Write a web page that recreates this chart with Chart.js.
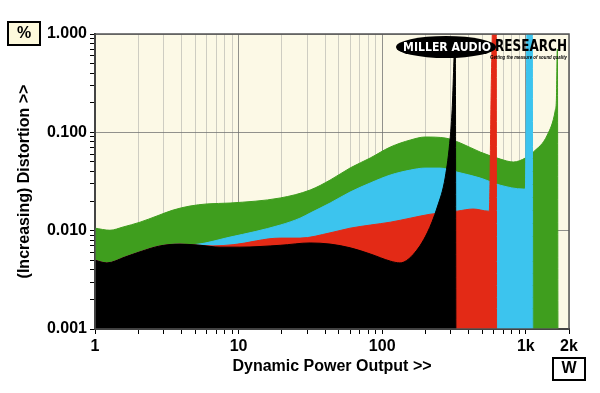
<!DOCTYPE html>
<html>
<head>
<meta charset="utf-8">
<script src="https://cdn.jsdelivr.net/npm/chart.js@4/dist/chart.umd.min.js"></script>
<style>
  html, body { margin: 0; padding: 0; background: #fff; }
</style>
</head>
<body>
<canvas id="dist" width="600" height="393"></canvas>
<script>
// power output (W) vs THD+N (%), one pair of arrays per trace
const blackW   = [1, 1.21, 1.62, 2.06, 2.84, 3.91, 5.39, 7.43, 10.2, 19.5, 31.5, 43.4, 59.8, 82.5, 114, 133, 164, 206, 242, 275, 298, 307, 323, 326];
const blackPct = [0.0050, 0.0047, 0.0054, 0.0061, 0.0070, 0.0073, 0.0071, 0.0068, 0.0068, 0.0071, 0.0075, 0.0073, 0.0067, 0.0058, 0.0049, 0.0047, 0.0057, 0.0095, 0.0174, 0.035, 0.090, 0.17, 0.9, 0.001];

const redW   = [1, 1.21, 1.62, 2.06, 2.84, 3.91, 5.39, 6.64, 9.15, 19.5, 26.8, 43.4, 59.8, 82.5, 114, 157, 216, 333, 431, 548, 557, 575, 592, 623, 626];
const redPct = [0.0050, 0.0047, 0.0054, 0.0061, 0.0070, 0.0073, 0.0071, 0.0070, 0.0072, 0.0084, 0.0084, 0.0095, 0.0106, 0.0114, 0.0122, 0.0134, 0.0147, 0.0158, 0.0166, 0.0158, 0.0158, 0.3, 1.5, 1.5, 0.001];

const blueW   = [1, 1.21, 1.62, 2.06, 2.84, 3.91, 4.59, 8.72, 19.5, 26.8, 31.5, 43.4, 59.8, 82.5, 114, 157, 199, 254, 333, 482, 664, 961, 993, 1024, 1110, 1118];
const bluePct = [0.0050, 0.0047, 0.0054, 0.0061, 0.0070, 0.0073, 0.0072, 0.0086, 0.0114, 0.0134, 0.0151, 0.0191, 0.0247, 0.0305, 0.0368, 0.0413, 0.0433, 0.0433, 0.0394, 0.0343, 0.0290, 0.0265, 0.0265, 1.5, 1.5, 0.001];

const greenW   = [1, 1.27, 1.57, 2.06, 2.70, 3.50, 4.59, 6.03, 8.72, 19.5, 31.5, 43.4, 59.8, 82.5, 114, 157, 199, 275, 350, 482, 664, 819, 993, 1128, 1413, 1607, 1633, 1660, 1675];
const greenPct = [0.0106, 0.0101, 0.0109, 0.0122, 0.0141, 0.0162, 0.0178, 0.0187, 0.0191, 0.0215, 0.0259, 0.0327, 0.0434, 0.0548, 0.0709, 0.0835, 0.0896, 0.0875, 0.0779, 0.0630, 0.0535, 0.0499, 0.0548, 0.0630, 0.0939, 0.169, 0.21, 0.70, 0.001];

// axis ticks
const xTicks = [1, 2, 3, 4, 5, 6, 7, 8, 9, 10, 20, 30, 40, 50, 60, 70, 80, 90,
                100, 200, 300, 400, 500, 600, 700, 800, 900, 1000, 2000];
const xLabels = { 1: '1', 10: '10', 100: '100', 1000: '1k', 2000: '2k' };
const yDecades = [0.001, 0.01, 0.1];
const yTicks = yDecades.flatMap(d => [1, 2, 3, 4, 5, 6, 7, 8, 9].map(k => +(d * k).toPrecision(3))).concat(1);
const yLabels = { 0.001: '0.001', 0.01: '0.010', 0.1: '0.100', 1: '1.000' };

const FONT = 'Liberation Sans, Arial, sans-serif';

function pairs(ws, ps) {
  return ws.map((w, i) => ({ x: w, y: ps[i] }));
}

function trace(ws, ps, colour) {
  return {
    data: pairs(ws, ps),
    borderColor: colour,
    backgroundColor: colour,
    borderWidth: 1,
    fill: 'start',
    pointRadius: 0,
    cubicInterpolationMode: 'monotone'
  };
}

// cream plot background, frame, unit boxes and the logo
const decorations = {
  id: 'decorations',
  beforeDraw(chart) {
    const { ctx, chartArea: a } = chart;
    ctx.save();
    ctx.fillStyle = '#fcf9e6';
    ctx.fillRect(a.left, a.top, a.right - a.left, a.bottom - a.top);
    ctx.restore();
  },
  afterDraw(chart) {
    const { ctx, chartArea: a } = chart;
    ctx.save();
    ctx.strokeStyle = '#555';
    ctx.lineWidth = 1.5;
    ctx.strokeRect(a.left, a.top, a.right - a.left, a.bottom - a.top);

    ctx.lineWidth = 2;
    ctx.strokeStyle = '#000';
    ctx.fillStyle = '#fdf9dc';
    ctx.fillRect(8, 22, 32, 23);
    ctx.strokeRect(8, 22, 32, 23);
    ctx.fillStyle = '#fff';
    ctx.fillRect(553, 358, 32, 22);
    ctx.strokeRect(553, 358, 32, 22);
    ctx.fillStyle = '#000';
    ctx.font = 'bold 16px ' + FONT;
    ctx.textAlign = 'center';
    ctx.textBaseline = 'middle';
    ctx.fillText('%', 24, 34);
    ctx.fillText('W', 569, 369);

    // Miller Audio Research logo
    ctx.beginPath();
    ctx.ellipse(446, 47, 50, 11, 0, 0, Math.PI * 2);
    ctx.fill();
    ctx.fillStyle = '#fff';
    ctx.font = 'bold 13px DejaVu Sans, ' + FONT;
    ctx.fillText('MILLER AUDIO', 447, 47.5, 88);
    ctx.fillStyle = '#000';
    ctx.textAlign = 'left';
    ctx.font = 'bold 15px DejaVu Sans, ' + FONT;
    ctx.fillText('RESEARCH', 495, 47.5, 72);
    ctx.font = 'italic bold 6px ' + FONT;
    ctx.fillText('Getting the measure of sound quality', 490, 57, 77);
    ctx.restore();
  }
};

new Chart(document.getElementById('dist'), {
  type: 'line',
  data: {
    datasets: [
      trace(blackW, blackPct, '#000000'),
      trace(redW, redPct, '#e32a16'),
      trace(blueW, bluePct, '#3cc4ee'),
      trace(greenW, greenPct, '#3f9e1e')
    ]
  },
  options: {
    responsive: false,
    animation: false,
    layout: { padding: { top: 34, right: 31, left: 0, bottom: 0 } },
    plugins: {
      legend: { display: false },
      tooltip: { enabled: false }
    },
    scales: {
      x: {
        type: 'logarithmic',
        min: 1,
        max: 2000,
        z: 1,
        afterBuildTicks: s => { s.ticks = xTicks.map(v => ({ value: v })); },
        afterFit: s => { s.height = 64; },
        ticks: {
          autoSkip: false,
          maxRotation: 0,
          padding: 3,
          color: '#000',
          font: { family: FONT, size: 16, weight: 'bold' },
          callback: v => xLabels[v] || ''
        },
        grid: {
          color: c => [1, 10, 100, 1000].includes(c.tick.value) ? 'rgba(110,110,110,0.75)' : 'rgba(150,150,150,0.45)',
          tickColor: '#000',
          tickLength: 5
        },
        border: { color: '#111', width: 2 },
        title: {
          display: true,
          text: 'Dynamic Power Output >>',
          color: '#000',
          font: { family: FONT, size: 16, weight: 'bold' },
          padding: { top: 0, bottom: 17 }
        }
      },
      y: {
        type: 'logarithmic',
        min: 0.001,
        max: 1,
        z: 1,
        afterBuildTicks: s => { s.ticks = yTicks.map(v => ({ value: v })); },
        afterFit: s => { s.width = 95; },
        ticks: {
          autoSkip: false,
          padding: 3,
          color: '#000',
          font: { family: FONT, size: 16, weight: 'bold' },
          callback: v => yLabels[v] || ''
        },
        grid: {
          color: c => yLabels[c.tick.value] ? 'rgba(110,110,110,0.75)' : 'rgba(0,0,0,0)',
          tickColor: '#000',
          tickLength: 5
        },
        border: { color: '#111', width: 2 },
        title: {
          display: true,
          text: '(Increasing) Distortion >>',
          color: '#000',
          font: { family: FONT, size: 16, weight: 'bold' },
          padding: { top: 15, bottom: 0 }
        }
      }
    }
  },
  plugins: [decorations]
});
</script>
</body>
</html>
